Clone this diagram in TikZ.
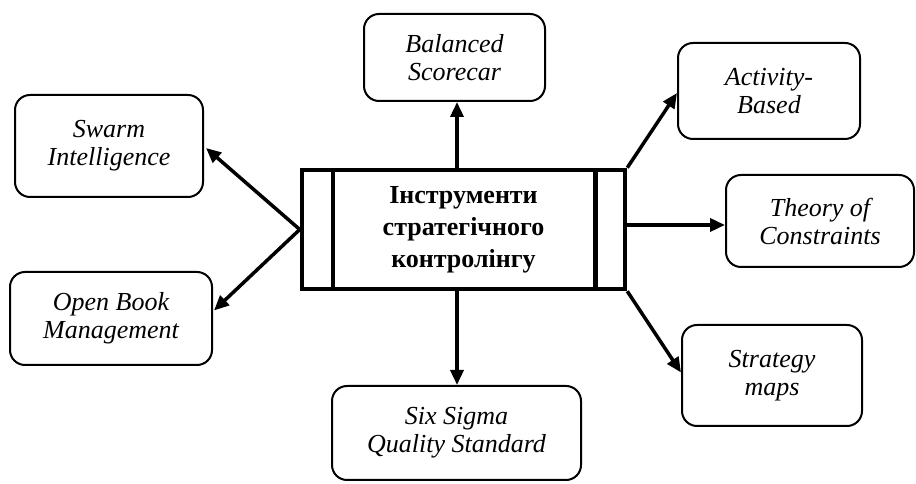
\documentclass[tikz,border=0pt]{standalone}
\usepackage{fontspec}
\setmainfont{Liberation Serif}
\usetikzlibrary{arrows.meta,calc}
\tikzset{
  tool/.style={draw, line width=2pt, rounded corners=15pt, align=center, inner sep=0pt,
    font=\itshape\fontsize{26}{28}\selectfont},
  hub/.style={draw, line width=4.5pt, align=center, inner sep=0pt,
    font=\bfseries\fontsize{26}{32}\selectfont},
  link/.style={line width=3.5pt, -{Triangle[length=15pt,width=13pt]}}
}
\begin{document}
\begin{tikzpicture}[x=1pt,y=1pt]
\useasboundingbox (0,0) rectangle (916,484);
\node[hub, minimum width=323pt, minimum height=119pt] (c) at (463.5,254.5) {Інструменти\\стратегічного\\контролінгу};
\draw[line width=4.5pt] ([xshift=33pt]c.north west) -- ([xshift=33pt]c.south west);
\draw[line width=4.5pt] ([xshift=-32pt]c.north east) -- ([xshift=-32pt]c.south east);

\node[tool, minimum width=181pt, minimum height=87pt] (bal) at (454.5,426.5) {Balanced\\Scorecar};
\node[tool, minimum width=182pt, minimum height=96pt] (act) at (769,393) {Activity-\\Based};
\node[tool, minimum width=188pt, minimum height=102pt] (sw) at (109,338) {Swarm\\Intelligence};
\node[tool, minimum width=188pt, minimum height=92pt] (th) at (820,263) {Theory of\\Constraints};
\node[tool, minimum width=202pt, minimum height=93pt] (ob) at (111,165.5) {Open Book\\Management};
\node[tool, minimum width=180pt, minimum height=101pt] (st) at (772,108.5) {Strategy\\maps};
\node[tool, minimum width=249pt, minimum height=94pt] (six) at (456.5,51) {Six Sigma\\Quality Standard};

\coordinate (ct) at ($(c.north)+(-6.5,0)$);
\coordinate (cb) at ($(c.south)+(-6.5,0)$);
\draw[link] (ct) -- (ct |- bal.south);
\draw[link] (cb) -- (cb |- six.north);
\draw[link] (c.west) -- ($(sw.east)+(2,-2)$);
\draw[link] (c.west) -- ($(ob.east)+(1,8)$);
\draw[link] (c.north east) -- ($(act.west)+(0,-2)$);
\draw[link] (c.east |- 0,259) -- (th.west |- 0,259);
\draw[link] (c.south east) -- ($(st.west)+(0,3)$);
\end{tikzpicture}
\end{document}
